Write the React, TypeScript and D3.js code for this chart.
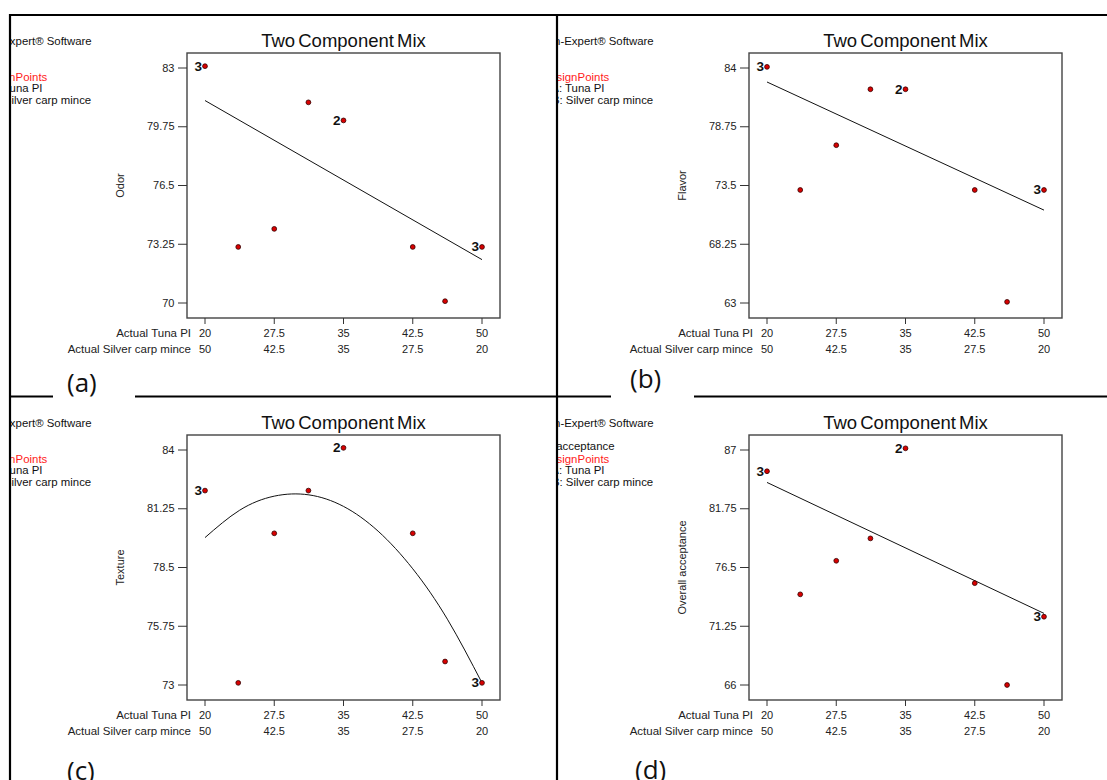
import * as d3 from "d3";
import React from "react";

// design points (Actual Tuna PI), silver carp mince = 70 - tuna
const tunaPI = [20, 23.6, 27.5, 31.2, 35, 42.5, 46, 50];
const replicates = [3, 1, 1, 1, 2, 1, 1, 3];

const odor = [83.1, 73.1, 74.1, 81.1, 80.1, 73.1, 70.1, 73.1];
const flavor = [84.1, 73.1, 77.1, 82.1, 82.1, 73.1, 63.1, 73.1];
const texture = [82.1, 73.1, 80.1, 82.1, 84.1, 80.1, 74.1, 73.1];
const overall = [85.1, 74.1, 77.1, 79.1, 87.15, 75.1, 66.0, 72.1];

// fitted model lines
const lineFitX = [20, 50];
const odorFit = [81.2, 72.4];
const flavorFit = [82.75, 71.3];
const overallFit = [84.1, 72.4];
const curveFitX = [20, 23.75, 27.5, 31.25, 35, 38.75, 42.5, 46.25, 50];
const textureFit = [79.9, 81.18, 81.84, 81.9, 81.36, 80.2, 78.44, 76.08, 73.1];

const tunaTicks = [20, 27.5, 35, 42.5, 50];
const silverTicks = [50, 42.5, 35, 27.5, 20];
const odorTicks = [70, 73.25, 76.5, 79.75, 83];
const flavorTicks = [63, 68.25, 73.5, 78.75, 84];
const textureTicks = [73, 75.75, 78.5, 81.25, 84];
const overallTicks = [66, 71.25, 76.5, 81.75, 87];

const FONT = "'Liberation Sans', Arial, sans-serif";
const FW = 313;
const FH = 265;

type PanelProps = {
  id: string;
  left: number;
  top: number;
  clipX: number;
  clipW: number;
  yLabel: string;
  yTicks: number[];
  values: number[];
  fitX: number[];
  fitY: number[];
  curved?: boolean;
};

const Panel = (p: PanelProps) => {
  const { left, top } = p;
  const x = d3.scaleLinear().domain([20, 50]).range([left + 18, left + FW - 18]);
  const y = d3
    .scaleLinear()
    .domain([p.yTicks[0], p.yTicks[p.yTicks.length - 1]])
    .range([top + FH - 15, top + 15]);

  const line = d3
    .line<number>()
    .x((d, i) => x(p.fitX[i]))
    .y((d) => y(d))
    .curve(p.curved ? d3.curveNatural : d3.curveLinear);

  const lx = left - 224;
  const bottom = top + FH;
  const axisText = { fontFamily: FONT, fontSize: 11, fill: "#222" };

  return (
    <g>
      <defs>
        <clipPath id={"clip-" + p.id}>
          <rect x={p.clipX} y={top - 40} width={p.clipW} height={360} />
        </clipPath>
      </defs>

      {/* legend block, partly cut by the panel edge */}
      <g clipPath={`url(#clip-${p.id})`} fontFamily={FONT} fontSize={11.4} fill="#111">
        <text x={lx} y={top - 8}>Design-Expert® Software</text>
        <text x={lx - 8} y={top + 15}>{p.yLabel}</text>
        <circle cx={lx + 4} cy={top + 24} r={2.5} fill="#e00000" />
        <text x={lx + 17} y={top + 27.5} fill="#ff1a1a" wordSpacing={-3}>Design Points</text>
        <text x={lx} y={top + 39}>X1 = A: Tuna PI</text>
        <text x={lx} y={top + 51}>X2 = B: Silver carp mince</text>
      </g>

      <text
        x={left + FW / 2}
        y={top - 6}
        textAnchor="middle"
        fontFamily={FONT}
        fontSize={18.5}
        wordSpacing={-2}
        fill="#111"
      >
        Two Component Mix
      </text>

      <rect x={left} y={top} width={FW} height={FH} fill="none" stroke="#444" strokeWidth={1.4} />

      {/* y axis */}
      {p.yTicks.map((t) => (
        <g key={t}>
          <line x1={left - 9} x2={left} y1={y(t)} y2={y(t)} stroke="#333" strokeWidth={1} />
          <text x={left - 12.5} y={y(t) + 3.5} textAnchor="end" {...axisText}>
            {t}
          </text>
        </g>
      ))}
      <text
        transform={`translate(${left - 63},${top + FH / 2}) rotate(-90)`}
        textAnchor="middle"
        {...axisText}
      >
        {p.yLabel}
      </text>

      {/* x axis, two component scales */}
      {tunaTicks.map((t, i) => (
        <g key={t}>
          <line x1={x(t)} x2={x(t)} y1={bottom} y2={bottom + 6} stroke="#333" strokeWidth={1} />
          <text x={x(t)} y={bottom + 19} textAnchor="middle" {...axisText}>
            {t}
          </text>
          <text x={x(t)} y={bottom + 35} textAnchor="middle" {...axisText}>
            {silverTicks[i]}
          </text>
        </g>
      ))}
      <text x={x(20) - 14} y={bottom + 19} textAnchor="end" {...axisText} fontSize={11.5}>
        Actual Tuna PI
      </text>
      <text x={x(20) - 14} y={bottom + 35} textAnchor="end" {...axisText} fontSize={11.5}>
        Actual Silver carp mince
      </text>

      <path d={line(p.fitY) || ""} fill="none" stroke="#111" strokeWidth={1} />

      {p.values.map((v, i) => (
        <g key={i}>
          <circle cx={x(tunaPI[i])} cy={y(v)} r={2.4} fill="#d80000" stroke="#300" strokeWidth={0.8} />
          {replicates[i] > 1 && (
            <text
              x={x(tunaPI[i]) - 3}
              y={y(v) + 4.5}
              textAnchor="end"
              fontFamily={FONT}
              fontWeight="bold"
              fontSize={13.5}
              fill="#111"
            >
              {replicates[i]}
            </text>
          )}
        </g>
      ))}
    </g>
  );
};

const App = () => {
  const letter = { fontFamily: "'Open Sans', 'Liberation Sans', sans-serif", fontSize: 26, fill: "#111" };
  return (
    <svg
      width={1107}
      height={780}
      style={{ position: "absolute", left: 0, top: 0, display: "block", background: "#fff" }}
    >
      <rect x={0} y={0} width={1107} height={780} fill="#fff" />

      <Panel id="a" left={187} top={53} clipX={11} clipW={545} yLabel="Odor" yTicks={odorTicks}
        values={odor} fitX={lineFitX} fitY={odorFit} />
      <Panel id="b" left={749} top={53} clipX={558} clipW={549} yLabel="Flavor" yTicks={flavorTicks}
        values={flavor} fitX={lineFitX} fitY={flavorFit} />
      <Panel id="c" left={187} top={435} clipX={11} clipW={545} yLabel="Texture" yTicks={textureTicks}
        values={texture} fitX={curveFitX} fitY={textureFit} curved />
      <Panel id="d" left={749} top={435} clipX={558} clipW={549} yLabel="Overall acceptance" yTicks={overallTicks}
        values={overall} fitX={lineFitX} fitY={overallFit} />

      {/* outer frame and dividers */}
      <g stroke="#000" strokeWidth={2.2} fill="none">
        <line x1={9} x2={1107} y1={15} y2={15} />
        <line x1={10} x2={10} y1={14} y2={780} />
        <line x1={557} x2={557} y1={14} y2={780} />
        <line x1={10} x2={53} y1={396.5} y2={396.5} />
        <line x1={135} x2={557} y1={396.5} y2={396.5} />
        <line x1={557} x2={611} y1={396.5} y2={396.5} />
        <line x1={694} x2={1107} y1={396.5} y2={396.5} />
      </g>

      <text x={67} y={392} {...letter}>(a)</text>
      <text x={630} y={388} {...letter}>(b)</text>
      <text x={67} y={780} {...letter}>(c)</text>
      <text x={635} y={779} {...letter}>(d)</text>
    </svg>
  );
};

export default App;
